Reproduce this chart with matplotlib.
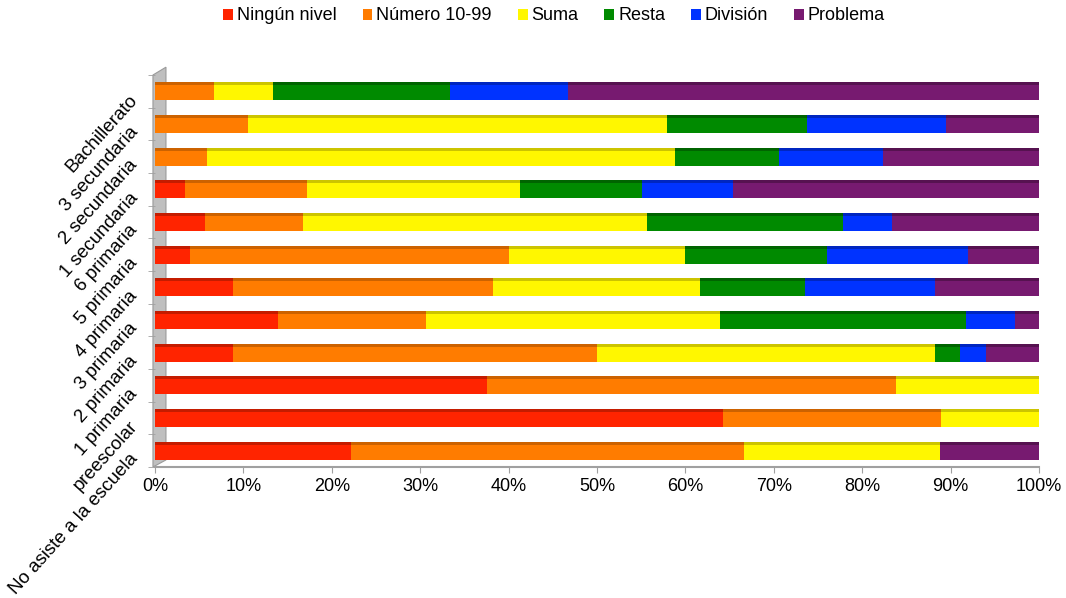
import matplotlib.pyplot as plt
import numpy as np
from matplotlib.patches import Patch, Polygon

plt.rcParams['font.family'] = ['Liberation Sans', 'DejaVu Sans']

# categories, bottom to top
niveles = ['No asiste a la escuela', 'preescolar', '1 primaria', '2 primaria',
           '3 primaria', '4 primaria', '5 primaria', '6 primaria',
           '1 secundaria', '2 secundaria', '3 secundaria', 'Bachillerato']

# percentages per category (same order as niveles)
ningun = [22.2, 64.2, 37.6, 8.8, 13.9, 8.8, 4.0, 5.6, 3.4, 0.0, 0.0, 0.0]
numero = [44.4, 24.7, 46.2, 41.2, 16.7, 29.4, 36.0, 11.1, 13.8, 5.9, 10.5, 6.7]
suma = [22.2, 11.1, 16.2, 38.2, 33.3, 23.5, 20.0, 38.9, 24.1, 52.9, 47.4, 6.7]
resta = [0.0, 0.0, 0.0, 2.9, 27.8, 11.8, 16.0, 22.2, 13.8, 11.8, 15.8, 20.0]
division = [0.0, 0.0, 0.0, 2.9, 5.6, 14.7, 16.0, 5.6, 10.3, 11.8, 15.8, 13.3]
problema = [11.2, 0.0, 0.0, 6.0, 2.7, 11.8, 8.0, 16.6, 34.6, 17.6, 10.5, 53.3]

series_names = ['Ningún nivel', 'Número 10-99', 'Suma', 'Resta', 'División', 'Problema']
colors = ['#FF2400', '#FF7C00', '#FFF700', '#008A00', '#0033FF', '#771A70']
top_colors = ['#C41C00', '#CC6200', '#CCC400', '#006400', '#0026C0', '#561250']

series = [ningun, numero, suma, resta, division, problema]

fig = plt.figure(figsize=(10.66, 5.98), dpi=100)
ax = fig.add_axes([155 / 1066, 1 - 467 / 598, 884 / 1066, 392 / 598])

y = np.arange(len(niveles))
bar_h = 0.56
left = np.zeros(len(niveles))
for vals, c, tc in zip(series, colors, top_colors):
    vals = np.array(vals)
    ax.barh(y, vals, left=left, height=bar_h, color=c, edgecolor='none', zorder=3)
    # darker top strip for the 3d look
    ax.barh(y + bar_h / 2 - 0.05, vals, left=left, height=0.1, color=tc,
            edgecolor='none', zorder=4)
    left = left + vals

# grey side wall
wall = Polygon([(-0.0023, 0.0), (0.0124, 0.018), (0.0124, 1.02), (-0.0023, 1.0)],
               closed=True, transform=ax.transAxes, facecolor='#BFBFBF',
               edgecolor='#9A9A9A', linewidth=0.8, clip_on=False, zorder=1)
ax.add_patch(wall)

ax.set_xlim(0, 100)
ax.set_ylim(-0.5, len(niveles) - 0.5)
ax.set_xticks(np.arange(0, 101, 10))
ax.set_xticklabels([f'{v}%' for v in range(0, 101, 10)], fontsize=13)
ax.set_yticks(y)
ax.set_yticklabels(niveles, fontsize=13.5, rotation=48, rotation_mode='anchor',
                   ha='right', va='top')
ax.set_yticks(np.arange(-0.5, len(niveles), 1), minor=True)
ax.tick_params(axis='y', which='major', length=0, pad=19)
ax.tick_params(axis='y', which='minor', length=5, color='#A0A0A0', left=True)
ax.tick_params(axis='x', length=4, color='#A0A0A0', pad=4)

for s in ['top', 'right', 'left']:
    ax.spines[s].set_visible(False)
ax.spines['bottom'].set_color('#A0A0A0')
ax.spines['bottom'].set_linewidth(1.5)

handles = [Patch(facecolor=c, edgecolor='none') for c in colors]
fig.legend(handles, series_names, loc='center', bbox_to_anchor=(554 / 1066, 1 - 16 / 598),
           ncol=6, frameon=False, fontsize=13, handlelength=0.55, handleheight=0.55,
           handletextpad=0.2, columnspacing=1.45, borderaxespad=0)

fig.savefig('out.png', dpi=100)
